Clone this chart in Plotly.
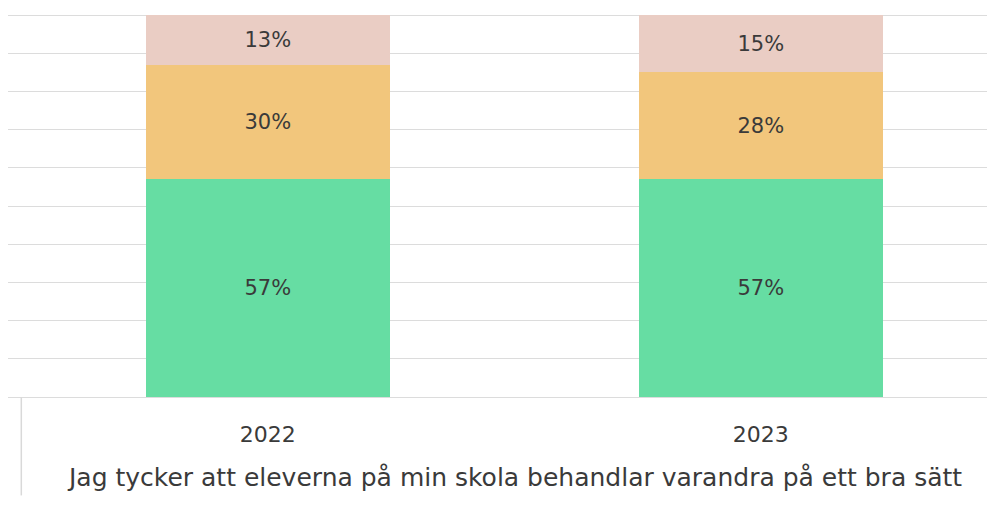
import plotly.graph_objects as go

years = ["2022", "2023"]
green_vals = [57, 57]
orange_vals = [30, 28]
pink_vals = [13, 15]
series_names = ["Stämmer bra", "Stämmer delvis", "Stämmer inte"]
colors = ["#66DDA3", "#F2C67C", "#EACDC4"]
title_text = "Jag tycker att eleverna på min skola behandlar varandra på ett bra sätt"

FONT = "DejaVu Sans"
fig = go.Figure()
for name, vals, col in zip(series_names, [green_vals, orange_vals, pink_vals], colors):
    fig.add_trace(go.Bar(
        x=[0, 1], y=vals, name=name, marker=dict(color=col, line=dict(width=0)),
        width=0.495, text=[f"{v}%" for v in vals], textposition="inside",
        insidetextanchor="middle", textangle=0,
        textfont=dict(family=FONT, size=21, color="#3A3A3A"),
        hoverinfo="skip",
    ))

fig.update_layout(
    barmode="stack", width=987, height=508,
    margin=dict(l=0, r=0, t=6, b=119),
    plot_bgcolor="white", paper_bgcolor="white",
    showlegend=False,
    xaxis=dict(range=[-0.527, 1.475], tickmode="array", tickvals=[0, 1], ticktext=years,
               showgrid=False, zeroline=False, showline=False, ticks="",
               tickfont=dict(family=FONT, size=22, color="#3A3A3A"),
               ticklabelstandoff=22),
    yaxis=dict(range=[0, 100.3], tickmode="array", tickvals=list(range(0, 101, 10)),
               showgrid=True, gridcolor="#DCDCDC", gridwidth=1,
               showticklabels=False, zeroline=True, zerolinecolor="#DCDCDC", zerolinewidth=1,
               showline=False, ticks=""),
    uniformtext=dict(mode="show", minsize=10),
)
fig.add_shape(type="line", xref="x", yref="paper", x0=-0.5, x1=-0.5, y0=0, y1=-0.257,
              line=dict(color="#D9D9D9", width=1.5))
fig.add_annotation(text=title_text, xref="paper", yref="paper", x=0.5127, y=-0.21,
                   yanchor="middle", showarrow=False,
                   font=dict(family=FONT, size=25, color="#3A3A3A"))
fig.write_html("out.html")
